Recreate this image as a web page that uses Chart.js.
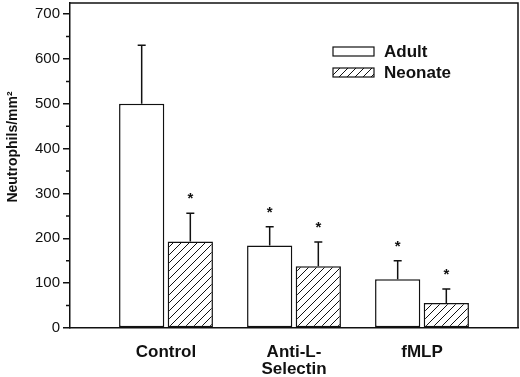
<!DOCTYPE html>
<html>
<head>
<meta charset="utf-8">
<script src="https://cdn.jsdelivr.net/npm/chart.js@4.4.1/dist/chart.umd.min.js"></script>
<style>
  html, body { margin: 0; padding: 0; background: #fff; }
  #wrap { width: 520px; height: 377px; }
</style>
</head>
<body>
<div id="wrap"><canvas id="chart"></canvas></div>
<script>
// data
const categories = ["Control", ["Anti-L-", "Selectin"], "fMLP"]
const seriesNames = ["Adult", "Neonate"]
const adultMean = [500, 184, 109]
const adultErr = [131, 42, 41]
const neonateMean = [193, 138, 56]
const neonateErr = [63, 54, 31]
const adultStar = [false, true, true]
const neonateStar = [true, true, true]
const yTicks = [0, 100, 200, 300, 400, 500, 600, 700]
const yMinorTicks = [50, 150, 250, 350, 450, 550, 650]
const yTitle = "Neutrophils/mm\u00b2"

const INK = "#111"
const FONT = "'Liberation Sans', Arial, sans-serif"

function makeHatch() {
  const size = 8
  const c = document.createElement("canvas")
  c.width = size
  c.height = size
  const g = c.getContext("2d")
  g.fillStyle = "#fff"
  g.fillRect(0, 0, size, size)
  g.strokeStyle = INK
  g.lineWidth = 1
  g.beginPath()
  g.moveTo(0, size); g.lineTo(size, 0)
  g.moveTo(-1, 1); g.lineTo(1, -1)
  g.moveTo(size - 1, size + 1); g.lineTo(size + 1, size - 1)
  g.stroke()
  return g.createPattern(c, "repeat")
}

const hatch = makeHatch()
const errs = [adultErr, neonateErr]
const stars = [adultStar, neonateStar]

const extras = {
  id: "extras",
  afterDatasetsDraw(chart) {
    const ctx = chart.ctx
    const y = chart.scales.y
    ctx.save()
    ctx.strokeStyle = INK
    ctx.fillStyle = INK
    ctx.lineWidth = 1.5
    chart.data.datasets.forEach((ds, di) => {
      const meta = chart.getDatasetMeta(di)
      meta.data.forEach((bar, i) => {
        const top = y.getPixelForValue(ds.data[i].y + errs[di][i])
        ctx.beginPath()
        ctx.moveTo(bar.x, bar.y)
        ctx.lineTo(bar.x, top)
        ctx.moveTo(bar.x - 4, top)
        ctx.lineTo(bar.x + 4, top)
        ctx.stroke()
        if (stars[di][i]) {
          ctx.font = "bold 15px " + FONT
          ctx.textAlign = "center"
          ctx.textBaseline = "middle"
          ctx.fillText("*", bar.x, top - 14)
        }
      })
    })
    ctx.restore()
  },
  afterDraw(chart) {
    const ctx = chart.ctx
    const a = chart.chartArea
    const y = chart.scales.y
    ctx.save()
    ctx.strokeStyle = INK
    ctx.lineWidth = 1.5
    // frame top + right
    ctx.beginPath()
    ctx.moveTo(a.left, a.top)
    ctx.lineTo(a.right, a.top)
    ctx.lineTo(a.right, a.bottom)
    ctx.stroke()
    // minor ticks
    ctx.beginPath()
    yMinorTicks.forEach(v => {
      const py = y.getPixelForValue(v)
      ctx.moveTo(a.left - 4, py)
      ctx.lineTo(a.left, py)
    })
    ctx.stroke()

    // legend
    ctx.font = "bold 17px " + FONT
    ctx.textBaseline = "middle"
    ctx.textAlign = "left"
    chart.data.datasets.forEach((ds, di) => {
      const bx = a.left + 263
      const by = a.top + 44 + di * 21
      ctx.fillStyle = ds.backgroundColor
      ctx.fillRect(bx, by, 41, 9)
      ctx.lineWidth = 1.2
      ctx.strokeRect(bx, by, 41, 9)
      ctx.fillStyle = INK
      ctx.fillText(ds.label, bx + 51, by + 5)
    })

    // y title
    ctx.translate(13, 147)
    ctx.rotate(-Math.PI / 2)
    ctx.font = "bold 14px " + FONT
    ctx.textAlign = "center"
    ctx.fillText(yTitle, 0, 0)
    ctx.restore()
  },
}

const toPoints = arr => arr.map((v, i) => ({ x: i + 1, y: v }))

new Chart(document.getElementById("chart"), {
  type: "bar",
  data: {
    datasets: [
      {
        label: seriesNames[0],
        data: toPoints(adultMean),
        backgroundColor: "#fff",
        borderColor: INK,
        borderWidth: 1.5,
        borderSkipped: false,
      },
      {
        label: seriesNames[1],
        data: toPoints(neonateMean),
        backgroundColor: hatch,
        borderColor: INK,
        borderWidth: 1.5,
        borderSkipped: false,
      },
    ],
  },
  options: {
    responsive: true,
    maintainAspectRatio: false,
    animation: false,
    devicePixelRatio: 1,
    barPercentage: 0.93,
    categoryPercentage: 0.76,
    layout: { padding: { top: 3, right: 2, left: 0, bottom: 0 } },
    plugins: { legend: { display: false }, tooltip: { enabled: false } },
    scales: {
      x: {
        type: "linear",
        min: 0.25,
        max: 3.75,
        offset: false,
        bounds: "data",
        afterBuildTicks: s => { s.ticks = categories.map((c, i) => ({ value: i + 1 })) },
        afterFit: s => { s.height = 49; s.paddingLeft = 0; s.paddingRight = 0 },
        grid: { display: false, drawTicks: false, offset: false },
        border: { display: true, color: INK, width: 1.5 },
        ticks: {
          padding: 16,
          color: INK,
          font: { family: FONT, size: 17, weight: "bold", lineHeight: 1 },
          callback: v => categories[v - 1],
        },
      },
      y: {
        min: 0,
        max: 725,
        afterBuildTicks: s => { s.ticks = yTicks.map(v => ({ value: v })) },
        afterFit: s => { s.width = 70; s.paddingTop = 0; s.paddingBottom = 0 },
        grid: { drawOnChartArea: false, tickLength: 7, color: INK, lineWidth: 1.5 },
        border: { display: true, color: INK, width: 1.5 },
        ticks: {
          padding: 3,
          color: INK,
          font: { family: FONT, size: 15 },
        },
      },
    },
  },
  plugins: [extras],
})
</script>
</body>
</html>
